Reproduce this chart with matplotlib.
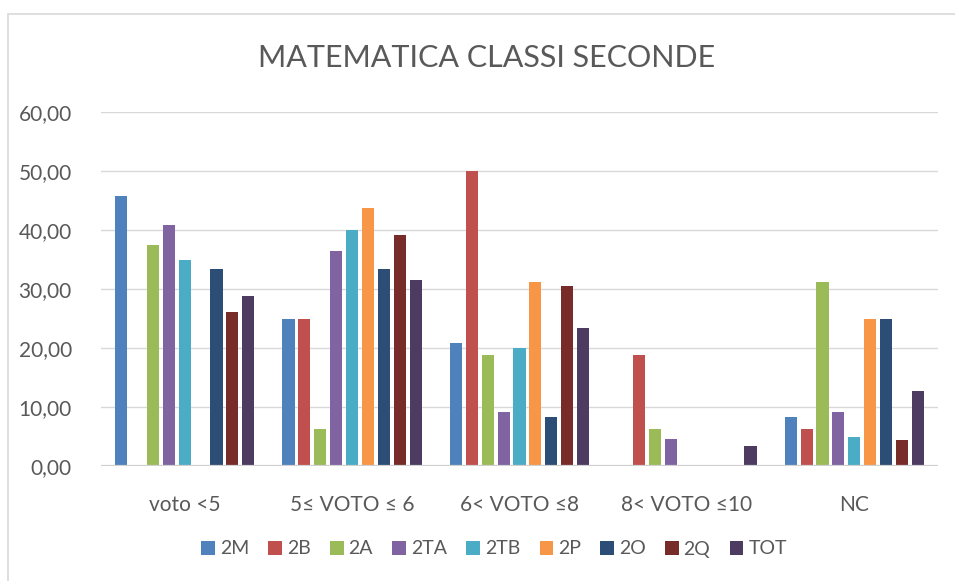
import matplotlib
matplotlib.use("Agg")
import matplotlib.pyplot as plt
import numpy as np
from matplotlib.ticker import FuncFormatter, MultipleLocator
from matplotlib.patches import Rectangle

plt.rcParams['font.family'] = ['Lato', 'DejaVu Sans']

# Data
categories = ['voto <5', '5≤ VOTO ≤ 6', '6< VOTO ≤8', '8< VOTO ≤10', 'NC']
classes = ['2M', '2B', '2A', '2TA', '2TB', '2P', '2O', '2Q', 'TOT']
val_2M = [45.83, 25.00, 20.83, 0.00, 8.33]
val_2B = [0.00, 25.00, 50.00, 18.75, 6.25]
val_2A = [37.50, 6.25, 18.75, 6.25, 31.25]
val_2TA = [40.91, 36.36, 9.09, 4.55, 9.09]
val_2TB = [35.00, 40.00, 20.00, 0.00, 5.00]
val_2P = [0.00, 43.75, 31.25, 0.00, 25.00]
val_2O = [33.33, 33.33, 8.33, 0.00, 25.00]
val_2Q = [26.09, 39.13, 30.43, 0.00, 4.35]
val_TOT = [28.85, 31.58, 23.44, 3.35, 12.68]
series = [val_2M, val_2B, val_2A, val_2TA, val_2TB, val_2P, val_2O, val_2Q, val_TOT]

colors = ['#4F81BD', '#C0504D', '#9BBB59', '#8064A2', '#4BACC6',
          '#F79646', '#2C4D75', '#772C2A', '#4D3B62']

fig = plt.figure(figsize=(9.55, 5.81), dpi=100)
ax = fig.add_axes([101 / 955, 1 - 466 / 581, (938 - 101) / 955, (466 - 112) / 581])

x = np.arange(len(categories))
slot = 0.095
bar_w = 0.072
for i, (name, vals) in enumerate(zip(classes, series)):
    offs = (i - (len(classes) - 1) / 2) * slot
    ax.bar(x + offs, vals, width=bar_w, color=colors[i], label=name, zorder=3)

ax.set_xlim(-0.5, len(categories) - 0.5)
ax.set_ylim(0, 60)
ax.yaxis.set_major_locator(MultipleLocator(10))
ax.yaxis.set_major_formatter(FuncFormatter(lambda v, p: f"{v:.2f}".replace('.', ',')))
ax.grid(axis='y', color='#D9D9D9', linewidth=1.0, zorder=0)
ax.axhline(0, color='#D0D0D0', linewidth=1.6, zorder=4)

for s in ax.spines.values():
    s.set_visible(False)
ax.tick_params(axis='both', length=0, labelsize=15, labelcolor='#595959')
ax.tick_params(axis='y', pad=21)
ax.tick_params(axis='x', pad=21)
ax.set_xticks(x)
ax.set_xticklabels(categories)

fig.text(487 / 955, 1 - 58 / 581, 'MATEMATICA CLASSI SECONDE', ha='center', va='center',
         fontsize=22, color='#595959')

leg = fig.legend(loc='center', bbox_to_anchor=(494 / 955, 1 - 549 / 581), ncol=9,
                 frameon=False, fontsize=14, handlelength=0.7, handleheight=0.7,
                 handletextpad=0.25, columnspacing=1.0, labelcolor='#595959')

# chart border
fig.patches.append(Rectangle((8 / 955, -0.1), 1.2, 1 - 14 / 581 + 0.1, transform=fig.transFigure,
                             fill=False, edgecolor='#D9D9D9', linewidth=1.2))

fig.savefig('out.png', dpi=100)
